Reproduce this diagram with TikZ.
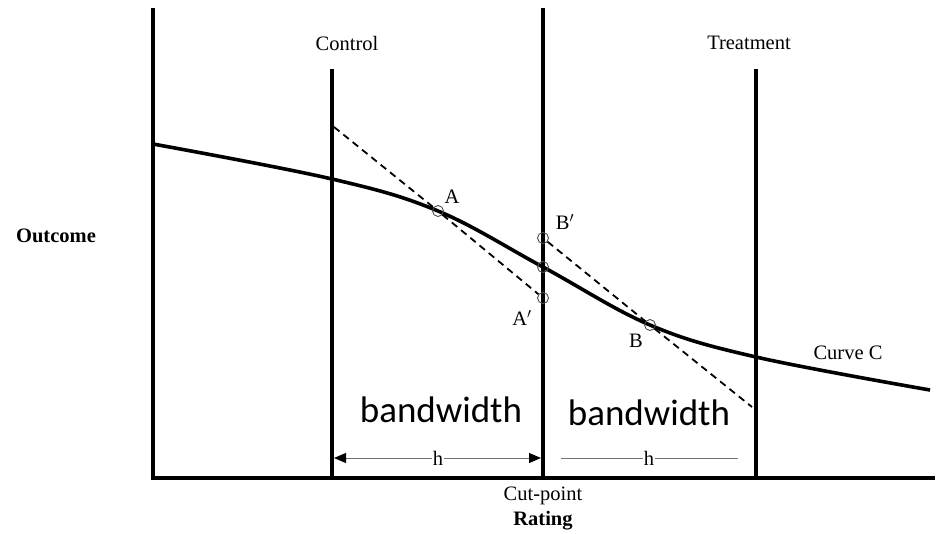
\documentclass[tikz,border=0pt]{standalone}
\usepackage{fontspec}
\setmainfont{Liberation Serif}
\newfontfamily\bwfont{Carlito}
\usetikzlibrary{arrows.meta}
\begin{document}
\begin{tikzpicture}[x=1pt,y=-1pt,
  axis/.style={line width=3.6pt},
  curvestyle/.style={line width=3.6pt},
  dashline/.style={line width=1.8pt,dash pattern=on 7pt off 5pt},
  pt/.style={circle,draw=black!70,line width=0.9pt,minimum size=11pt,inner sep=0pt},
  lbl/.style={font=\fontsize{20.5}{22}\selectfont,inner sep=0pt},
  bw/.style={font=\bwfont\fontsize{37}{40}\selectfont,inner sep=0pt},
  hline/.style={draw=black!55,line width=1pt},
  htip/.style={-{Triangle[length=12pt,width=10pt,color=black]}}]
\useasboundingbox (0,0) rectangle (939,533);
% axes and vertical lines
\coordinate (ytop) at (153,8);
\coordinate (origin) at (153,478);
\coordinate (xend) at (935,478);
\coordinate (ctop) at (332,69);
\coordinate (cbot) at (332,478);
\coordinate (mtop) at (543,8);
\coordinate (mbot) at (543,478);
\coordinate (ttop) at (756,69);
\coordinate (tbot) at (756,478);
\draw[axis] (ytop) -- (origin) -- (xend);
\draw[axis] (ctop) -- (cbot);
\draw[axis] (mtop) -- (mbot);
\draw[axis] (ttop) -- (tbot);
% curve
\draw[curvestyle] plot[smooth,tension=0.6] coordinates {(153,144) (332,179) (438,211) (543,267) (650,325) (756,357) (930,390)};
% points
\node[pt] (A) at (438,211) {};
\node[pt] (Ap) at (543,298) {};
\node[pt] (Bp) at (543,238) {};
\node[pt] (M) at (543,267) {};
\node[pt] (B) at (650,325) {};
% dashed lines
\coordinate (d1s) at (334,127);
\coordinate (d2e) at (752,407);
\draw[dashline] (d1s) -- (A) -- (Ap);
\draw[dashline] (Bp) -- (B) -- (d2e);
% labels
\node[lbl] (Al) at (452,197) {A};
\node[lbl] (Bpl) at (565,222) {B$'$};
\node[lbl] (Apl) at (522,318) {A$'$};
\node[lbl] (Bl) at (636,341) {B};
\node[lbl] (cc) at (848,353) {Curve C};
\node[lbl] (ctl) at (347,43) {Control};
\node[lbl] (trl) at (749,43) {Treatment};
\node[lbl,font=\bfseries\fontsize{20.5}{22}\selectfont] (out) at (56,236) {Outcome};
\node[lbl] (cut) at (543,496) {Cut-point};
\node[lbl,font=\bfseries\fontsize{20.5}{22}\selectfont] (rat) at (543,521) {Rating};
\node[bw] (bw1) at (441,410) {bandwidth};
\node[bw] (bw2) at (649,413) {bandwidth};
% h markers
\node[lbl,fill=white,inner xsep=1pt] (h1) at (438,458) {h};
\node[lbl,fill=white,inner xsep=1pt] (h2) at (649,458) {h};
\coordinate (h1l) at (334,458);
\coordinate (h1r) at (541,458);
\coordinate (h2l) at (561,458);
\coordinate (h2r) at (738,458);
\draw[hline,htip] (h1) -- (h1l);
\draw[hline,htip] (h1) -- (h1r);
\draw[hline] (h2l) -- (h2);
\draw[hline] (h2) -- (h2r);
\end{tikzpicture}
\end{document}
